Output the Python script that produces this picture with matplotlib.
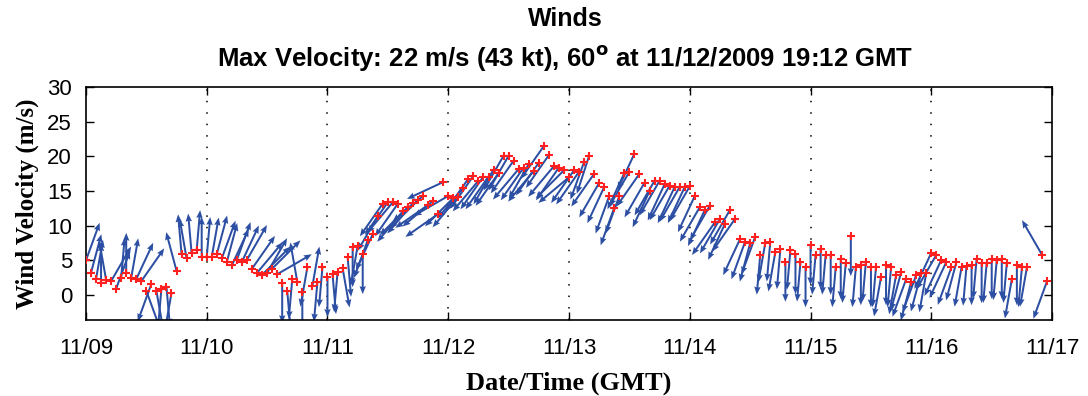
import numpy as np
import matplotlib.pyplot as plt

# hourly record starting 11/09/2009 00:00 GMT
day_labels = ['11/09', '11/10', '11/11', '11/12', '11/13', '11/14', '11/15', '11/16', '11/17']

# wind speed (m/s), one value per hour
speed = [
    # 11/09
    5.0, 3.2, 2.3, 1.7, 2.2, 2.0, 0.9, 2.5, 3.2, 2.5, 2.3, 2.0,
    0.6, 1.6, 0.6, 0.9, 1.2, 0.3, 3.5, 5.9, 5.3, 6.0, 6.5, 5.5,
    # 11/10
    5.5, 5.5, 5.9, 5.3, 4.8, 4.3, 5.1, 4.8, 5.1, 3.8, 3.2, 2.9,
    3.2, 3.8, 3.0, 1.7, 0.6, 2.3, 1.9, 0.4, 4.0, 1.3, 1.9, 4.0,
    # 11/11
    2.6, 3.0, 3.3, 3.9, 5.5, 6.9, 7.1, 5.9, 7.9, 8.8, 11.4, 13.2,
    13.4, 13.4, 13.2, 12.1, 12.7, 13.3, 13.7, 14.3, 13.0, 13.6, 11.7, 16.3,
    # 11/12
    14.3, 14.0, 14.2, 15.5, 16.8, 17.2, 16.5, 17.1, 17.1, 18.1, 17.6, 20.1,
    20.1, 19.4, 18.2, 18.4, 18.9, 17.9, 19.1, 21.5, 20.2, 18.6, 18.4, 18.0,
    # 11/13
    17.0, 18.0, 17.8, 19.2, 20.1, 17.5, 16.2, 15.6, 14.3, 12.6, 14.3, 17.6,
    17.8, 20.4, 17.5, 16.2, 15.0, 16.5, 16.5, 16.0, 15.8, 15.6, 15.6, 15.6,
    # 11/14
    15.7, 14.3, 12.7, 12.3, 12.9, 10.5, 11.0, 10.3, 12.3, 11.0, 8.1, 7.7,
    7.5, 8.4, 5.8, 7.5, 7.7, 6.2, 6.6, 4.8, 6.5, 5.9, 4.8, 4.0,
    # 11/15
    7.2, 5.8, 6.6, 5.8, 5.8, 4.0, 5.2, 4.6, 8.5, 4.0, 4.3, 4.8,
    4.0, 4.0, 2.6, 4.3, 4.0, 2.9, 3.3, 2.3, 1.9, 2.9, 3.2, 3.2,
    # 11/16
    6.1, 5.8, 5.1, 4.8, 4.0, 4.8, 4.0, 4.2, 4.3, 5.2, 4.6, 4.6,
    5.2, 5.0, 5.2, 4.6, 2.3, 4.3, 4.0, 4.0, np.nan, np.nan, 5.8, 2.0,
]

# stick direction (deg clockwise from up), one value per hour
direction = [
    # 11/09
    20, 15, 10, 0, 350, 30, 20, 5, 0, 10, 25, 35,
    160, 200, 170, 185, 175, 190, 345, 355, 350, 355, 5, 0,
    # 11/10
    5, 10, 15, 20, 15, 25, 20, 25, 30, 35, 40, 45,
    30, 45, 60, 180, 175, 185, 350, 180, 190, 10, 185, 185,
    # 11/11
    180, 175, 185, 170, 175, 180, 190, 180, 200, 205, 210, 215,
    215, 220, 215, 220, 225, 220, 225, 230, 235, 230, 235, 245,
    # 11/12
    240, 225, 220, 220, 215, 215, 220, 215, 215, 210, 215, 210,
    210, 215, 220, 215, 210, 220, 215, 215, 215, 220, 215, 225,
    # 11/13
    230, 215, 215, 200, 198, 215, 210, 205, 200, 200, 200, 205,
    210, 205, 215, 210, 205, 210, 210, 205, 210, 205, 210, 205,
    # 11/14
    210, 205, 210, 205, 210, 215, 210, 205, 210, 215, 205, 200,
    195, 200, 185, 190, 185, 190, 185, 180, 185, 180, 185, 180,
    # 11/15
    180, 185, 180, 185, 180, 185, 180, 185, 180, 185, 180, 185,
    180, 185, 190, 180, 185, 190, 195, 200, 195, 200, 195, 190,
    # 11/16
    205, 210, 205, 205, 200, 195, 190, 185, 180, 185, 180, 185,
    180, 185, 180, 185, 190, 180, 185, 190, 0, 0, 330, 200,
]

speed = np.array(speed, dtype=float)
direction = np.radians(np.array(direction, dtype=float))
t = np.arange(len(speed)) / 24.0

stick_len = 40  # pixels
u = stick_len * np.sin(direction)
v = stick_len * np.cos(direction)

fig = plt.figure(figsize=(10.88, 3.96), dpi=100)
ax = fig.add_axes([0.079, 0.192, 0.888, 0.588])

ok = ~np.isnan(speed)
ax.quiver(t[ok], speed[ok], u[ok], v[ok], angles='uv', scale_units='dots', scale=1,
          units='dots', width=2.0, headwidth=3.2, headlength=4, headaxislength=3.6,
          color='#2c4fa3', zorder=2)
ax.plot(t, speed, '+', color='#ff2020', ms=6, mew=1.5, zorder=3)

for d in range(1, 8):
    ax.axvline(d, color='k', ls=(0, (1, 6.5)), lw=1.1, zorder=1)

ax.set_xlim(0, 8)
ax.set_ylim(-3.6, 30)
ax.set_xticks(range(9))
ax.set_xticklabels(day_labels)
ax.set_yticks(range(0, 31, 5))
ax.tick_params(direction='in', top=True, right=True, length=6, width=1,
               labelsize=16, pad=10)
ax.tick_params(axis='x', pad=13)
for lab in ax.get_xticklabels() + ax.get_yticklabels():
    lab.set_family('Liberation Sans')
for s in ax.spines.values():
    s.set_linewidth(1.2)

ax.set_xlabel('Date/Time (GMT)', family='Liberation Serif', fontweight='bold',
              fontsize=19, labelpad=9)
ax.set_ylabel('Wind Velocity (m/s)', family='Liberation Serif', fontweight='bold',
              fontsize=18, labelpad=6)

fig.text(0.52, 0.952, 'Winds', ha='center', va='center', family='Liberation Sans',
         fontweight='bold', fontsize=18)
fig.text(0.519, 0.854, r'Max Velocity: 22 m/s (43 kt), 60$^\mathbf{o}$ at 11/12/2009 19:12 GMT',
         ha='center', va='center', family='Liberation Sans', fontweight='bold', fontsize=18.5)

fig.savefig('out.png', dpi=100)
